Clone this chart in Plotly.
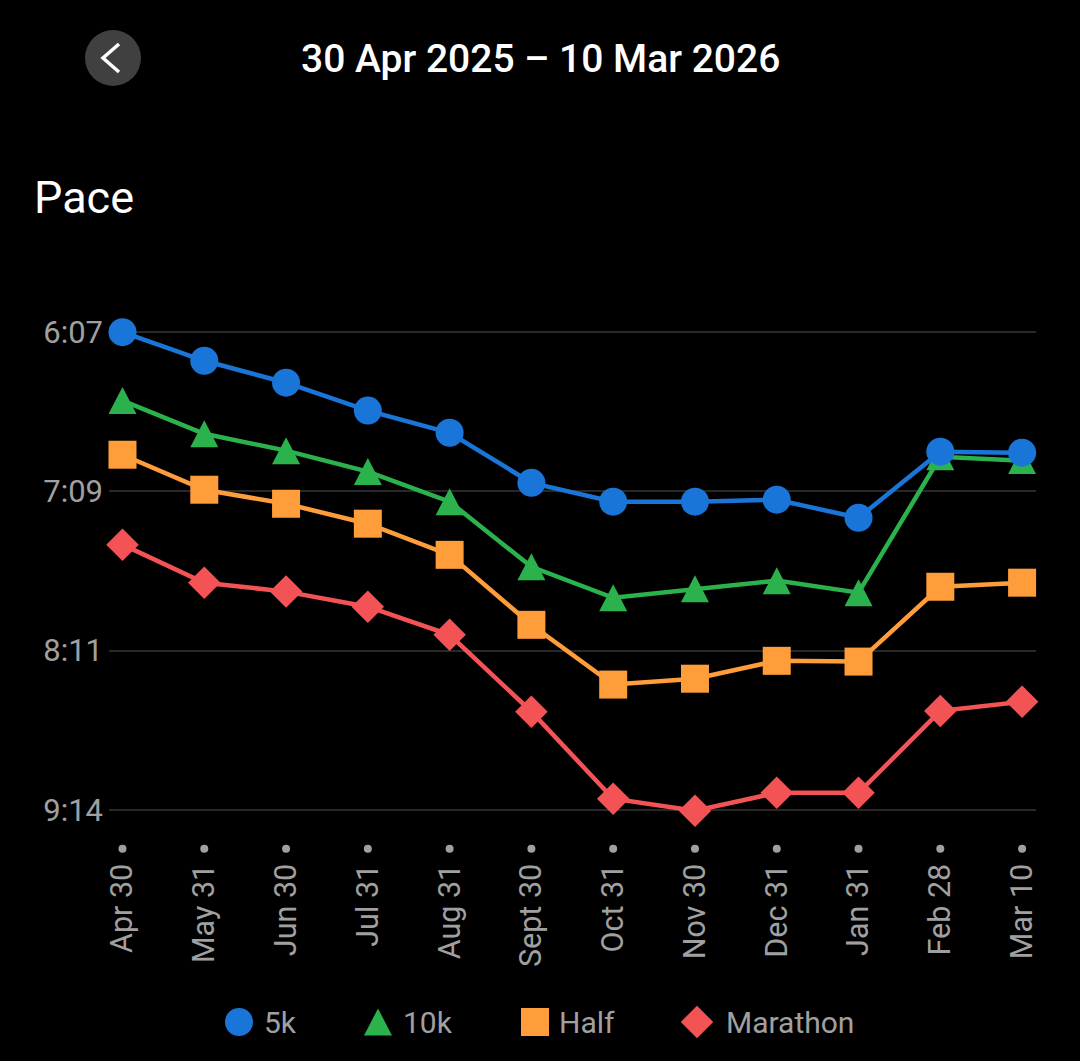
import plotly.graph_objects as go

W, H = 1080, 1061
FONT = "Roboto"
GREY = "#a0a0a0"

categories = ["Apr 30", "May 31", "Jun 30", "Jul 31", "Aug 31", "Sept 30", "Oct 31", "Nov 30", "Dec 31", "Jan 31", "Feb 28", "Mar 10"]
pace_ticks = [367, 429.33, 491.67, 554]
pace_labels = ["6:07", "7:09", "8:11", "9:14"]
pace_5k = [367, 378.2, 386.8, 397.7, 406.4, 426, 433.4, 433.4, 432.6, 439.7, 413.8, 414.2]
pace_10k = [393.8, 406.8, 413.4, 421.6, 433.4, 458.9, 471, 467.5, 464.3, 469, 415.8, 417.3]
pace_half = [415, 428.7, 434.2, 442, 454.2, 481.6, 505, 502.7, 495.7, 496, 466.7, 465.1]
pace_marathon = [450.2, 465.1, 468.6, 474.5, 485.5, 515.6, 549.7, 554.4, 547.4, 547.4, 515.3, 511.7]

series = [
    ("Marathon", pace_marathon, "#f45356", "diamond", 25, 697, 724),
    ("Half", pace_half, "#ff9d3b", "square", 28, 535, 557),
    ("10k", pace_10k, "#2bb24c", "triangle-up", 15, 378, 401),
    ("5k", pace_5k, "#1976d8", "circle", 28, 239, 262),
]
TRI = "M -14 -13.5 L 14 -13.5 L 0 13.5 Z"

fig = go.Figure()
for name, vals, color, symbol, size, lx, tx in series:
    fig.add_trace(go.Scatter(x=categories, y=vals, name=name, mode="lines+markers",
                             line=dict(color=color, width=4.5),
                             marker=dict(color=color, symbol=symbol, size=size),
                             cliponaxis=False, showlegend=False))
    fig.add_trace(go.Scatter(x=[lx], y=[1022], xaxis="x2", yaxis="y2", mode="markers",
                             marker=dict(color=color, symbol=symbol, size=size),
                             showlegend=False, hoverinfo="skip"))
    fig.add_annotation(xref="paper", yref="paper", x=tx / W, y=1 - 1022 / H, text=name,
                       showarrow=False, xanchor="left", yanchor="middle",
                       font=dict(family=FONT, size=30, color=GREY))
    if symbol == "triangle-up":
        # Plotly's triangle is flatter than the reference: give it full height with anchored pixel shapes
        for i, v in enumerate(vals):
            fig.add_shape(type="path", xref="x", yref="y", xsizemode="pixel", ysizemode="pixel",
                          xanchor=i, yanchor=v, path=TRI, fillcolor=color, line_width=0, layer="between")
        fig.add_shape(type="path", xref="x2", yref="y2", xsizemode="pixel", ysizemode="pixel",
                      xanchor=lx, yanchor=1022, path=TRI, fillcolor=color, line_width=0, layer="above")

fig.add_trace(go.Scatter(x=categories, y=[569.3] * len(categories), mode="markers",
                         marker=dict(color=GREY, size=8), showlegend=False, hoverinfo="skip"))

fig.add_annotation(xref="paper", yref="paper", x=540 / W, y=1 - 58.5 / H, text="30 Apr 2025 – 10 Mar 2026",
                   showarrow=False, xanchor="center", yanchor="middle",
                   font=dict(family=FONT, size=39, color="#ffffff", weight=500))
fig.add_annotation(xref="paper", yref="paper", x=32 / W, y=1 - 198 / H, text="Pace",
                   showarrow=False, xanchor="left", yanchor="middle",
                   font=dict(family=FONT, size=45, color="#ffffff"))

fig.add_shape(type="circle", xref="x2", yref="y2", x0=85, x1=141, y0=30, y1=86,
              fillcolor="#404040", line_width=0)
fig.add_shape(type="path", xref="x2", yref="y2", path="M 119 44 L 103 58 L 119 72",
              line=dict(color="#ffffff", width=3.5))

fig.update_layout(
    width=W, height=H, autosize=False,
    paper_bgcolor="#000000", plot_bgcolor="rgba(0,0,0,0)",
    margin=dict(l=0, r=0, t=0, b=0, autoexpand=False),
    showlegend=False,
    xaxis=dict(domain=[109 / W, 1036 / W], type="category", categoryorder="array", categoryarray=categories,
               range=[-0.165, 11.17], tickangle=-90, showgrid=False, zeroline=False, showline=False,
               tickfont=dict(family=FONT, size=30.5, color=GREY), ticks=""),
    yaxis=dict(domain=[1 - 856.7 / H, 1 - 310.7 / H], range=[572.4, 358.6], tickmode="array",
               tickvals=pace_ticks, ticktext=pace_labels, gridcolor="#282828", gridwidth=1.5, zeroline=False,
               showline=False, ticks="", ticklabelstandoff=5, tickfont=dict(family=FONT, size=31, color=GREY)),
    xaxis2=dict(domain=[0, 1], range=[0, W], visible=False, anchor="y2"),
    yaxis2=dict(domain=[0, 1], range=[H, 0], visible=False, anchor="x2"),
)
fig.write_html("out.html", config=dict(displayModeBar=False),
               post_script="document.body.style.margin='0';document.body.style.background='#000';document.documentElement.style.overflow='hidden';")
